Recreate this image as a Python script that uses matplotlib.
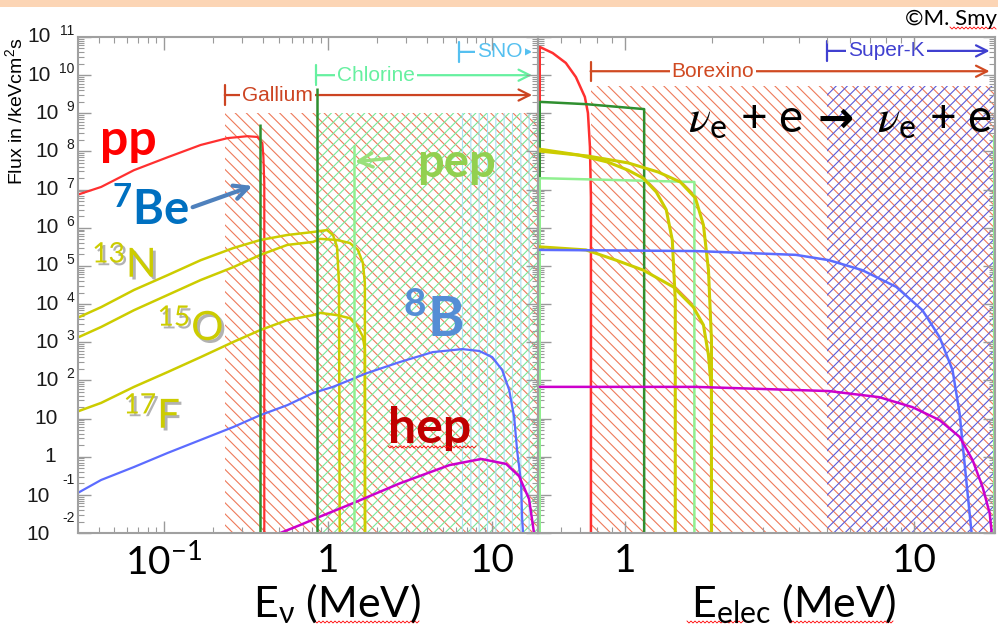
import numpy as np
import matplotlib
matplotlib.use('Agg')
import matplotlib.pyplot as plt
import matplotlib.patheffects as pe
from matplotlib.patches import Rectangle
from matplotlib.lines import Line2D
from matplotlib.ticker import LogLocator, NullFormatter

plt.rcParams['font.family'] = ['Lato', 'DejaVu Sans']
plt.rcParams['mathtext.fontset'] = 'custom'
plt.rcParams['mathtext.rm'] = 'Lato'
plt.rcParams['mathtext.it'] = 'Lato:italic'
plt.rcParams['mathtext.bf'] = 'Lato:bold'
plt.rcParams['hatch.linewidth'] = 0.8

FLOOR = -3.0          # log10 flux where a spectrum ends
EMAX = 19.0

## neutrino spectra: E in MeV, log10 of flux in /keV cm^2 s
pp_E    = [0.0305, 0.0415, 0.0658, 0.1057, 0.1676, 0.2443, 0.323, 0.371, 0.398, 0.404, 0.409, 0.409]
pp_lgF  = [6.88, 7.07, 7.51, 7.85, 8.17, 8.35, 8.40, 8.38, 8.22, 7.85, 7.17, FLOOR]

n13_E   = [0.0305, 0.0415, 0.0658, 0.1057, 0.1676, 0.2656, 0.3873, 0.564, 0.811, 0.986, 1.072, 1.134, 1.166, 1.18]
n13_lgF = [3.66, 3.92, 4.37, 4.76, 5.15, 5.47, 5.68, 5.81, 5.89, 5.94, 5.81, 5.50, 4.55, FLOOR]

o15_E   = [0.0305, 0.0415, 0.0658, 0.1057, 0.1676, 0.2656, 0.3873, 0.564, 0.811, 0.894, 1.134, 1.359, 1.519, 1.630, 1.676, 1.68]
o15_lgF = [3.14, 3.40, 3.84, 4.24, 4.63, 4.97, 5.29, 5.55, 5.63, 5.71, 5.68, 5.60, 5.42, 5.08, 4.55, FLOOR]

f17_E   = [0.0305, 0.0415, 0.0658, 0.1057, 0.1676, 0.2656, 0.3873, 0.564, 0.811, 0.894, 1.134, 1.359, 1.519, 1.630, 1.676, 1.68]
f17_lgF = [1.20, 1.41, 1.83, 2.22, 2.61, 3.01, 3.32, 3.58, 3.71, 3.77, 3.71, 3.63, 3.40, 3.14, 2.80, FLOOR]

b8_E    = [0.0305, 0.0415, 0.0658, 0.1057, 0.1676, 0.2656, 0.3873, 0.564, 0.811, 1.072, 1.723, 2.732,
           4.33, 6.58, 8.34, 10.0, 11.5, 12.68, 13.6, 14.17, 14.99, 15.2, 15.4, 15.5]
b8_lgF  = [-0.93, -0.61, -0.27, 0.10, 0.44, 0.78, 1.09, 1.35, 1.67, 1.83, 2.19, 2.48,
           2.74, 2.82, 2.77, 2.61, 2.27, 1.75, 1.04, 0.17, -0.69, -1.58, -2.0, FLOOR]

hep_E   = [0.512, 0.677, 0.894, 1.417, 2.732, 5.49, 8.58, 12.16, 14.57, 16.76, 17.97, 18.1]
hep_lgF = [-2.0, -1.79, -1.57, -1.22, -0.70, -0.22, -0.06, -0.19, -0.51, -1.11, -2.0, FLOOR]

# mono-energetic lines
be_E   = [0.384, 0.862]
be_lgF = [8.72, 9.66]
pep_E, pep_lgF = 1.44, 8.17

## electron recoil spectra (nu_e + e scattering)
pp_e_E    = [0.507, 0.507, 0.562, 0.624, 0.676, 0.726, 0.744, 0.756, 0.762, 0.762]
pp_e_lgF  = [FLOOR, 10.74, 10.58, 10.32, 9.95, 9.43, 9.01, 8.12, 6.81, FLOOR]
be_e_E    = [0.507, 0.507, 0.732, 1.164, 1.164]
be_e_lgF  = [7.33, 9.30, 9.24, 9.11, FLOOR]
pep_e_E   = [0.507, 0.507, 1.736, 1.736]
pep_e_lgF = [FLOOR, 7.30, 7.20, FLOOR]
n13_e_E   = [0.507, 0.687, 0.873, 1.024, 1.155, 1.281, 1.388, 1.456, 1.491, 1.491]
n13_e_lgF = [8.06, 7.91, 7.72, 7.51, 7.30, 6.94, 6.47, 5.68, 4.11, FLOOR]
o15_e_E   = [0.507, 0.744, 1.024, 1.302, 1.552, 1.750, 1.866, 1.942, 1.989, 1.989]
o15_e_lgF = [8.01, 7.88, 7.70, 7.46, 7.20, 6.78, 6.07, 4.89, 3.06, FLOOR]
f17_e_E   = [0.507, 0.732, 0.931, 1.155, 1.468, 1.722, 1.866, 1.942, 1.989, 1.989]
f17_e_lgF = [5.50, 5.42, 5.15, 4.89, 4.45, 3.92, 3.45, 2.66, 1.75, FLOOR]
b8_e_E    = [0.507, 1.750, 3.894, 5.07, 6.60, 8.66, 10.66, 12.21, 13.55, 14.33, 14.91, 15.52, 15.77, 15.8]
b8_e_lgF  = [5.42, 5.39, 5.29, 5.15, 4.89, 4.45, 3.84, 3.14, 2.27, 1.14, -0.17, -1.48, -2.0, FLOOR]
hep_e_E   = [0.507, 1.750, 5.07, 7.56, 9.84, 12.21, 14.33, 15.90, 17.22, 18.21, 18.51, 18.55]
hep_e_lgF = [1.83, 1.83, 1.72, 1.56, 1.30, 0.96, 0.52, -0.09, -0.80, -1.48, -2.0, FLOOR]
edge_E, edge_lgF = 18.8, 8.43

## detector thresholds (MeV) and arrow ends
nu_exps  = ['Gallium', 'Chlorine', 'SNO']
nu_thr   = [0.235, 0.85, 6.3]
el_exps  = ['Borexino', 'Super-K']
el_thr   = [0.76, 5.0]
nu_top, el_top = 9.0, 9.72

RED, DKGREEN, LTGREEN = '#ff3030', '#2f8f2f', '#90f090'
YELLOW, BLUE, MAGENTA = '#cccc00', '#5c6cff', '#cc00cc'
HATCH_OR, HATCH_GR, HATCH_CY, HATCH_BL = '#ee7a5a', '#77e899', '#a8e2f4', '#5a5ad8'

fig = plt.figure(figsize=(9.98, 6.30), dpi=100)
fig.add_artist(Rectangle((0, 1 - 7/630), 1, 7/630, transform=fig.transFigure,
                         facecolor='#fcd5b5', edgecolor='none'))
ax1 = fig.add_axes([78/998, 1 - 533/630, 460/998, 496/630])
ax2 = fig.add_axes([538/998, 1 - 533/630, 457/998, 496/630])

def F(lg):
    return 10.0 ** np.asarray(lg)

def hatch_band(ax, e0, top, color, pattern):
    ax.fill_between([e0, EMAX], F(FLOOR), F(top), facecolor='none', edgecolor=color,
                    hatch=pattern, linewidth=0, zorder=1)

def threshold(ax, e0, e1, yfrac, name, xtext, color):
    ax.annotate('', xy=(e1, yfrac), xytext=(e0, yfrac), xycoords=ax.get_xaxis_transform(),
                arrowprops=dict(arrowstyle=']->, widthA=0.35, lengthA=0', color=color, lw=1.6,
                                shrinkA=0, shrinkB=0, mutation_scale=20), zorder=1.2)
    ax.text(xtext, yfrac, name, transform=ax.transAxes, ha='center', va='center', color=color,
            fontsize=15, family='Liberation Sans', zorder=1.5,
            bbox=dict(facecolor='white', edgecolor='none', pad=1.5))

## left: neutrino spectra
hatch_band(ax1, nu_thr[0], nu_top, HATCH_OR, '\\\\\\')
hatch_band(ax1, nu_thr[1], nu_top, HATCH_GR, '///')
hatch_band(ax1, nu_thr[2], nu_top, HATCH_CY, '||')

ax1.plot(pp_E, F(pp_lgF), color=RED, lw=1.6)
for e, lg in [(n13_E, n13_lgF), (o15_E, o15_lgF), (f17_E, f17_lgF)]:
    ax1.plot(e, F(lg), color=YELLOW, lw=1.8)
ax1.plot(b8_E, F(b8_lgF), color=BLUE, lw=1.6)
ax1.plot(hep_E, F(hep_lgF), color=MAGENTA, lw=1.8)
ax1.vlines(be_E, F(FLOOR), F(be_lgF), color=DKGREEN, lw=1.8)
ax1.vlines(pep_E, F(FLOOR), F(pep_lgF), color=LTGREEN, lw=1.8)

threshold(ax1, nu_thr[0], 17.5, 0.883, 'Gallium', 0.434, '#cc4422')
threshold(ax1, nu_thr[1], 17.5, 0.923, 'Chlorine', 0.648, '#66f0a0')
threshold(ax1, nu_thr[2], 17.5, 0.970, 'SNO', 0.918, '#55c0f0')

## right: electron spectra
hatch_band(ax2, el_thr[0], el_top, HATCH_OR, '\\\\\\')
hatch_band(ax2, el_thr[1], el_top, HATCH_BL, '///')

ax2.plot(pp_e_E, F(pp_e_lgF), color=RED, lw=1.8)
ax2.plot(be_e_E, F(be_e_lgF), color=DKGREEN, lw=1.8)
ax2.plot(pep_e_E, F(pep_e_lgF), color=LTGREEN, lw=1.8)
for e, lg in [(n13_e_E, n13_e_lgF), (o15_e_E, o15_e_lgF), (f17_e_E, f17_e_lgF)]:
    ax2.plot(e, F(lg), color=YELLOW, lw=2.2)
ax2.plot(b8_e_E, F(b8_e_lgF), color=BLUE, lw=1.8)
ax2.plot(hep_e_E, F(hep_e_lgF), color=MAGENTA, lw=1.8)
ax2.vlines(edge_E, F(FLOOR), F(edge_lgF), color=LTGREEN, lw=1.5)

threshold(ax2, el_thr[0], 18.2, 0.931, 'Borexino', 0.383, '#d04a22')
threshold(ax2, el_thr[1], 18.2, 0.972, 'Super-K', 0.763, '#4040d0')

## axes
for ax, xlo in [(ax1, 0.03), (ax2, 0.5)]:
    ax.set_xscale('log')
    ax.set_yscale('log')
    ax.set_xlim(xlo, EMAX)
    ax.set_ylim(1e-2, 1e11)
    ax.yaxis.set_major_locator(LogLocator(base=10, numticks=30))
    ax.yaxis.set_minor_locator(LogLocator(base=10, subs=np.arange(2, 10), numticks=30))
    ax.xaxis.set_minor_locator(LogLocator(base=10, subs=np.arange(2, 10), numticks=30))
    ax.xaxis.set_minor_formatter(NullFormatter())
    ax.yaxis.set_minor_formatter(NullFormatter())
    ax.tick_params(which='both', direction='in', top=True, right=True, color='#9a9a9a',
                   labelleft=False, labelsize=28, pad=7)
    ax.tick_params(which='major', length=9, width=1.0)
    ax.tick_params(which='minor', length=4, width=0.8)
    for s in ax.spines.values():
        s.set_color('#a0a0a0')
        s.set_linewidth(1.5)

ax1.set_xticks([0.1, 1, 10], labels=[r'$\mathregular{10^{-1}}$', '1', '10'])
ax2.set_xticks([1, 10], labels=['1', '10'])

# y tick labels in the 10 / exponent style
def xa(px):
    return (px - 78) / 460.0

ytr = ax1.get_yaxis_transform()
ykw = dict(transform=ytr, family='Liberation Sans', color='#1a1a1a', va='center')
for k in range(-2, 12):
    if k >= 2:
        ax1.text(xa(74), F(k + 0.157), str(k), ha='right', fontsize=10, **ykw)
        ax1.text(xa(74 - 7.7 * len(str(k)) - 8), F(k), '10', ha='right', fontsize=15, **ykw)
    elif k == 1:
        ax1.text(xa(58), F(k), '10', ha='right', fontsize=15, **ykw)
    elif k == 0:
        ax1.text(xa(56), F(k), '1', ha='right', fontsize=15, **ykw)
    else:
        ax1.text(xa(75), F(k + 0.39), str(k), ha='right', fontsize=10, **ykw)
        ax1.text(xa(50), F(k - 0.05), '10', ha='right', fontsize=15, **ykw)

fig.text(15/998, 1 - 111/630, r'Flux in /keVcm$^{\mathregular{2}}$s', rotation=90,
         ha='center', va='center', fontsize=14, family='Liberation Sans')

fig.text(337/998, 1 - 617/630, r'E$_{\mathregular{ν}}$ (MeV)', ha='center', va='baseline', fontsize=31)
fig.text(794/998, 1 - 617/630, r'E$_{\mathregular{elec}}$ (MeV)', ha='center', va='baseline', fontsize=31)
fig.text(997/998, 1 - 19/630, '©M. Smy', ha='right', va='center', fontsize=16)

## source labels
shadow = [pe.withSimplePatchShadow(offset=(2, -2), shadow_rgbFace='#808080', alpha=0.6)]
ax1.text(0.048, 0.762, 'pp', transform=ax1.transAxes, color='#ff0000', fontsize=36,
         fontweight='bold', va='baseline')
ax1.text(0.074, 0.621, r'$^{\mathbf{7}}$Be', transform=ax1.transAxes, color='#0070c0',
         fontsize=34, fontweight='bold', va='baseline')
ax1.text(0.030, 0.516, r'$^{\mathregular{13}}$N', transform=ax1.transAxes, color=YELLOW,
         fontsize=29, va='baseline', path_effects=shadow)
ax1.text(0.172, 0.389, r'$^{\mathregular{15}}$O', transform=ax1.transAxes, color=YELLOW,
         fontsize=29, va='baseline', path_effects=shadow)
ax1.text(0.098, 0.212, r'$^{\mathregular{17}}$F', transform=ax1.transAxes, color=YELLOW,
         fontsize=29, va='baseline', path_effects=shadow)
ax1.text(0.7065, 0.395, r'$^{\mathbf{8}}$B', transform=ax1.transAxes, color='#558ed5',
         fontsize=40, fontweight='bold', va='baseline')
ax1.text(0.674, 0.181, 'hep', transform=ax1.transAxes, color='#c00000', fontsize=36,
         fontweight='bold', va='baseline')
ax1.text(0.737, 0.718, 'pep', transform=ax1.transAxes, color='#92d050', fontsize=34,
         fontweight='bold', va='baseline')

ax1.annotate('', xy=(0.3848, 0.7016), xytext=(0.2435, 0.655), xycoords='axes fraction',
             arrowprops=dict(arrowstyle='->', color='#4f81bd', lw=3, mutation_scale=25))
ax1.annotate('', xy=(0.5957, 0.748), xytext=(0.6848, 0.756), xycoords='axes fraction',
             arrowprops=dict(arrowstyle='->', color='#99e07a', lw=2.5, mutation_scale=25))

# scattering reaction
ax2.text(0.328, 0.808, r'$\nu_{\mathregular{e}}$ + e', transform=ax2.transAxes, fontsize=33,
         va='baseline', math_fontfamily='stix')
ax2.text(0.652, 0.808, '→', transform=ax2.transAxes, fontsize=31, va='baseline', ha='center',
         family='DejaVu Sans', fontweight='bold')
ax2.text(0.742, 0.808, r'$\nu_{\mathregular{e}}$ + e', transform=ax2.transAxes, fontsize=33,
         va='baseline', math_fontfamily='stix')

# spell-check marks
def squiggle(x0, x1, y):
    xs = np.arange(x0, x1, 2.0)
    ys = y + np.where(np.arange(xs.size) % 2, 1.0, -1.0)
    fig.add_artist(Line2D(xs / 998, 1 - ys / 630, color='red', lw=0.6))

squiggle(950, 997, 28)
squiggle(315, 420, 622)
squiggle(687, 745, 622)
squiggle(789, 895, 622)
squiggle(388, 477, 447)

fig.savefig('out.png', dpi=100)
